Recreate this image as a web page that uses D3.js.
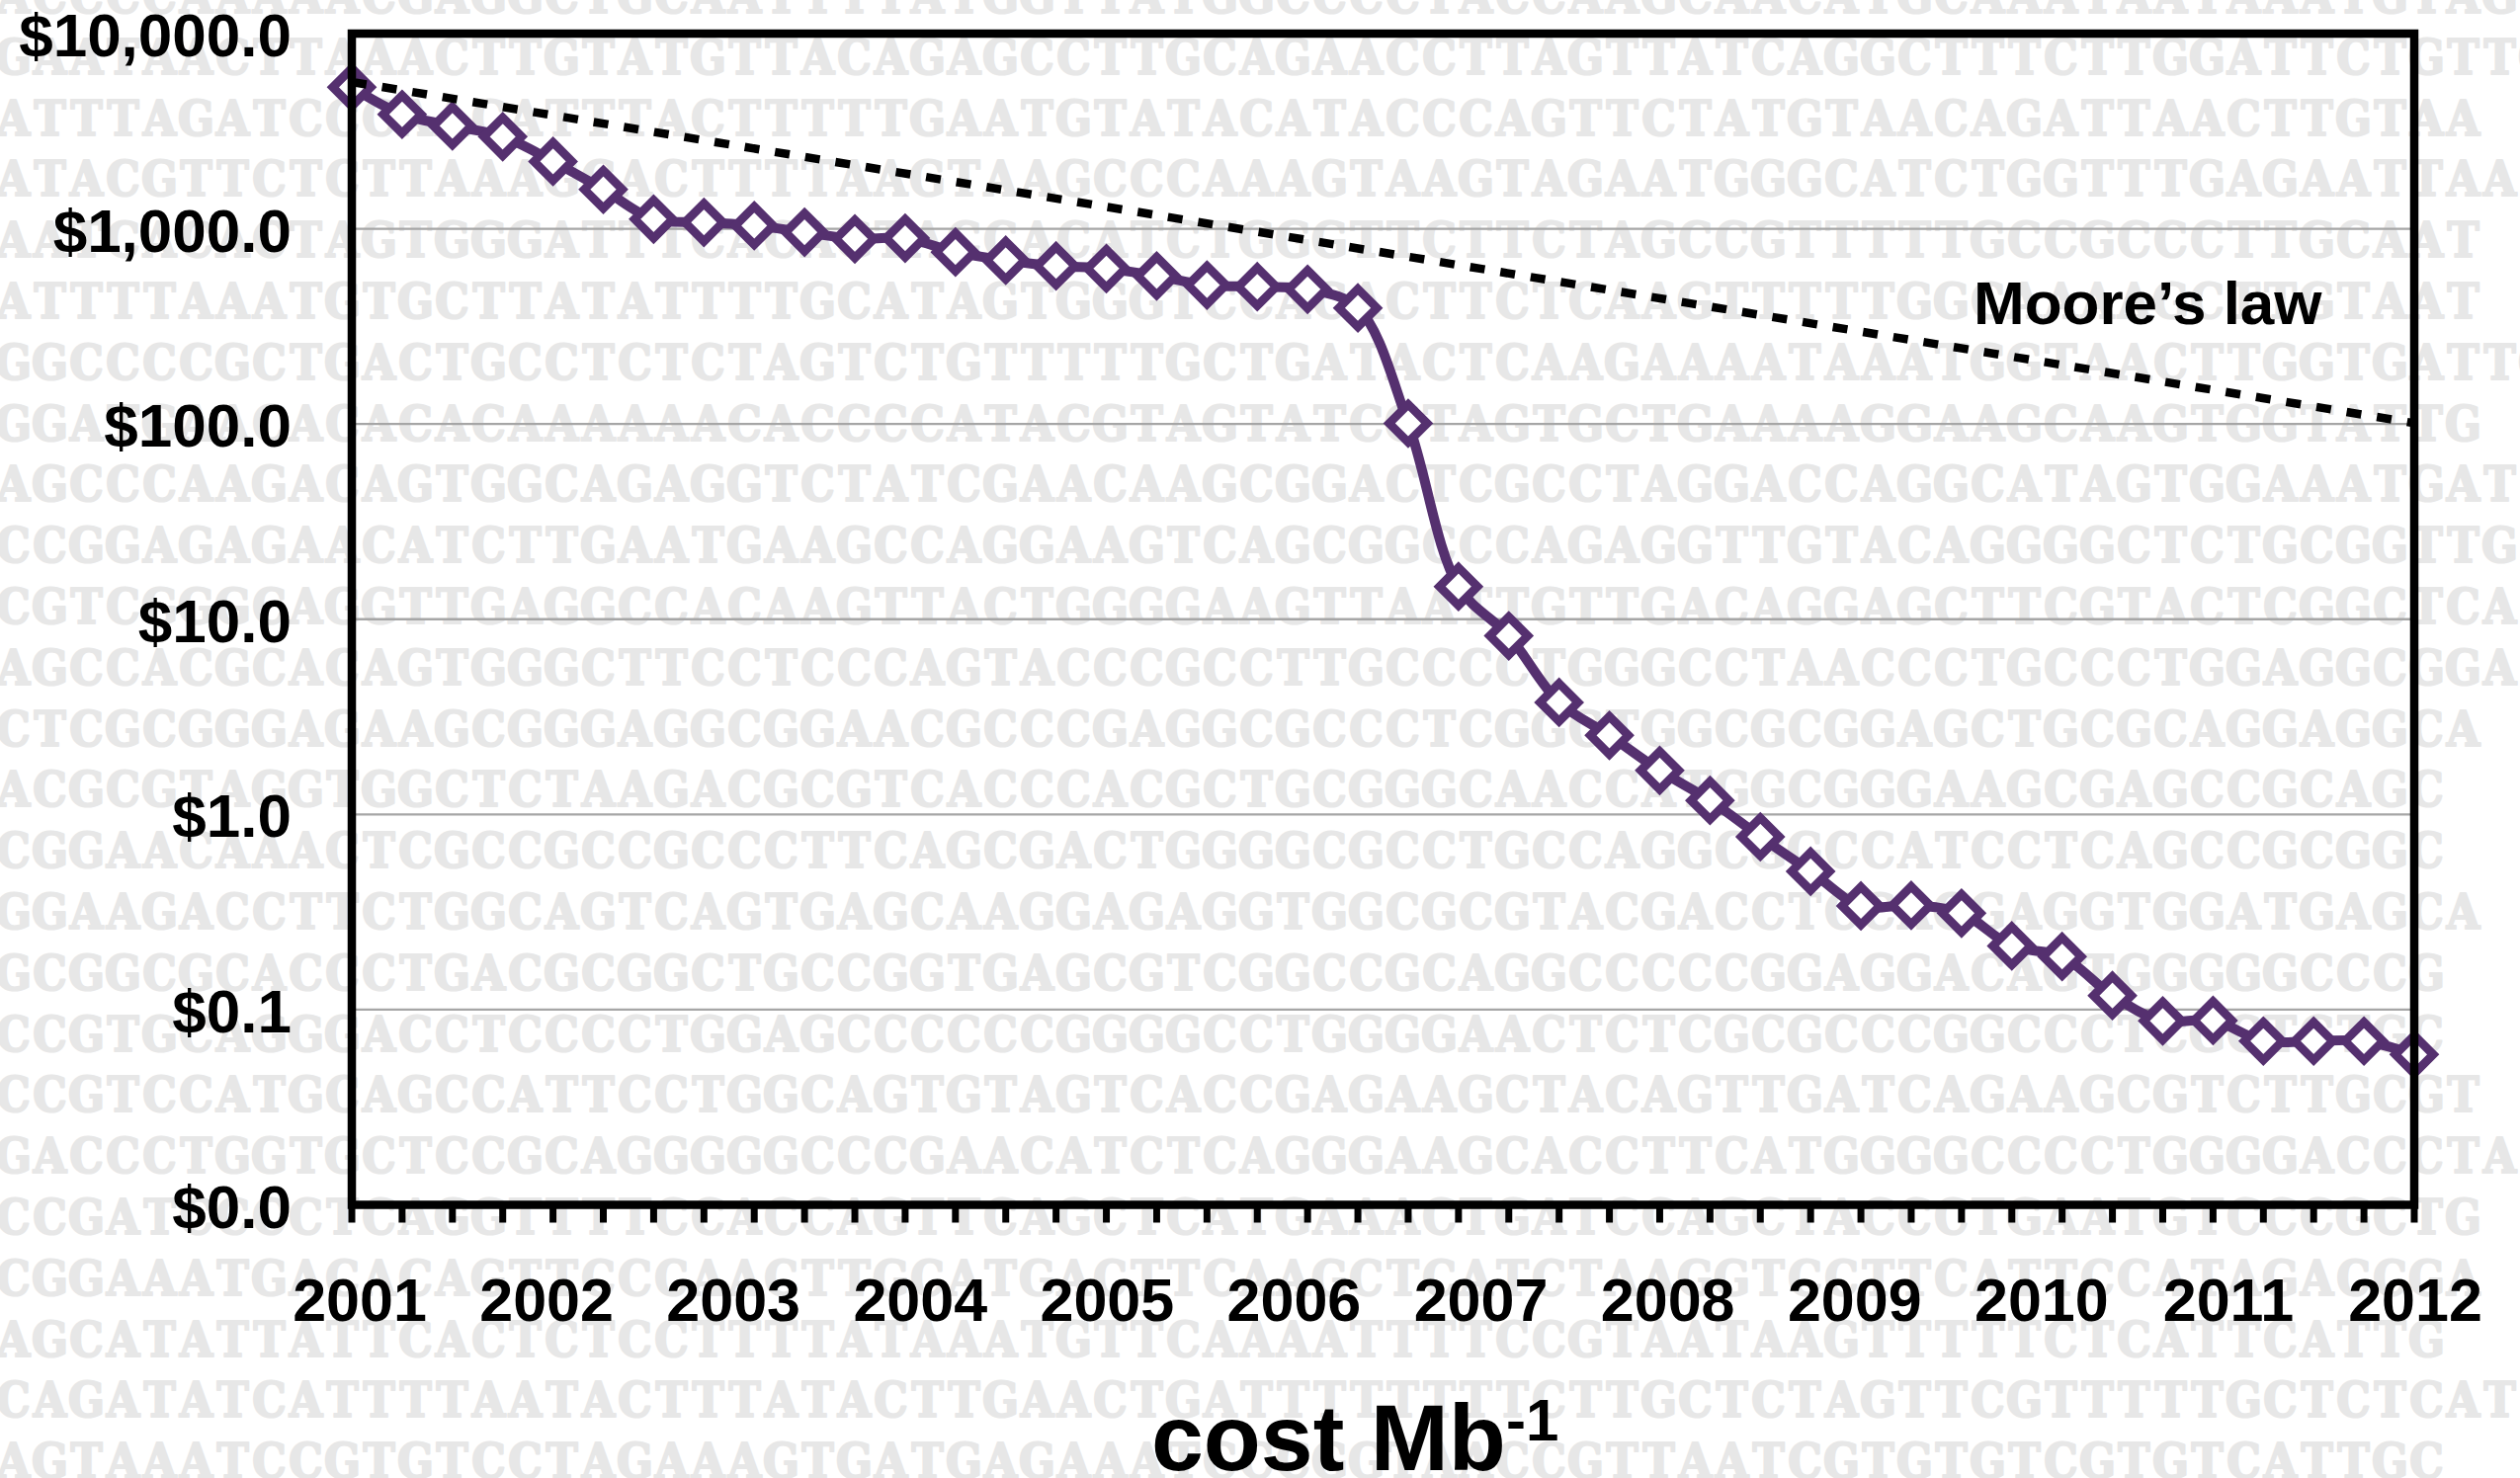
<!DOCTYPE html>
<html>
<head>
<meta charset="utf-8">
<script src="https://cdn.jsdelivr.net/npm/d3@7"></script>
<style>
  html, body { margin: 0; padding: 0; background: #ffffff; }
  svg { display: block; }
</style>
</head>
<body>
<svg id="chart" width="2550" height="1496"></svg>
<script>
// ---------------- data ----------------
const costPerMb = [5309, 3857, 3367, 2965, 2214, 1591, 1121, 1079, 1038, 960,
  888, 895, 760, 690, 645, 626, 573, 515, 505, 490,
  393, 100.8, 14.7, 8.22, 3.75, 2.54, 1.68, 1.18, 0.768, 0.511,
  0.340, 0.342, 0.312, 0.212, 0.187, 0.118, 0.0875, 0.088, 0.069, 0.069,
  0.069, 0.0589];
const mooreIndex = [0, 41];
const mooreLaw = [5650, 101];
const yearLabels = [2001, 2002, 2003, 2004, 2005, 2006, 2007, 2008, 2009, 2010, 2011, 2012];
const yTickValues = [0.01, 0.1, 1, 10, 100, 1000, 10000];
const gridValues = [0.1, 1, 10, 100, 1000];
const mooreLabel = "Moore\u2019s law";
const axisTitle = "cost Mb";
const axisTitleSup = "-1";
const bgRows = [
  "ACCCCAAAAACGAGGCTGCAATTTTATGGTTATGGCCCCTACCAAGCAACATGCAAATAATAAATGTAG",
  "GAATAACTTAAACTTGTATGTTACAGAGCCTTGCAGAACCTTAGTTATCAGGCTTTCTTGGATTCTGTTGA",
  "ATTTAGATCCCAACATTTACTTTTTGAATGTATACATACCCAGTTCTATGTAACAGATTAACTTGTAA",
  "ATACGTTCTCTTAAAGCACTTTTAAGTAAGCCCAAAGTAAGTAGAATGGGCATCTGGTTTGAGAATTAA",
  "AATCACACTAGTGGGATTTCACAGTACCACATCTGGGTTCTTCTAGCCGTTTTTGCCGCCCTTGCAAT",
  "ATTTTAAATGTGCTTATATTTTGCATAGTGGGTCCACACTTCTCAAGTTTTTGGCAAAAGCTTGTAAT",
  "GGCCCCGCTGACTGCCTCTCTAGTCTGTTTTTGCTGATACTCAAGAAAATAAATGGTAACTTGGTGATTG",
  "GGATGAACACACACAAAAAACACCCCATACGTAGTATCGTAGTGCTGAAAAGGAAGCAAGTGGTATTG",
  "AGCCCAAGACAGTGGCAGAGGTCTATCGAACAAGCGGACTCGCCTAGGACCAGGCATAGTGGAAATGAT",
  "CCGGAGAGAACATCTTGAATGAAGCCAGGAAGTCAGCGGCCCAGAGGTTGTACAGGGGCTCTGCGGTTG",
  "CGTCGGGCAGGTTGAGGCCACAAGTTACTGGGGAAGTTAATTGTTGACAGGAGCTTCGTACTCGGCTCA",
  "AGCCACGCACAGTGGGCTTCCTCCCAGTACCCGCCTTGCCCCTGGGCCTAACCCTGCCCTGGAGGCGGA",
  "CTCGCGGGAGAAGCGGGAGGCGGAACGCCCGAGGCGCCCTCGGCTGGCGCGGAGCTGCGCAGGAGGCA",
  "ACGCGTAGGTGGCTCTAAGACGCGTCACCCACGCTGCGGGCAACCATGGCGGGAAGCGAGCCGCAGC",
  "CGGAACAAACTCGCCGCCGCCCTTCAGCGACTGGGGCGCCTGCCAGGCGGCCATCCTCAGCCGCGGC",
  "GGAAGACCTTCTGGCAGTCAGTGAGCAAGGAGAGGTGGCGCGTACGACCTCCAGGAGGTGGATGAGCA",
  "GCGGCGCACCCTGACGCGGCTGCCGGTGAGCGTCGGCCGCAGGCCCCCGGAGGACAGTGGGGGCCCG",
  "CCGTGCAGGGACCTCCCCTGGAGCCCCCCGGGGCCTGGGGAACTCTCGCGCCCGGCCCTCGCTCTGC",
  "CCGTCCATGCAGCCATTCCTGGCAGTGTAGTCACCGAGAAGCTACAGTTGATCAGAAGCGTCTTGCGT",
  "GACCCTGGTGCTCCGCAGGGGGCCCGAACATCTCAGGGAAGCACCTTCATGGGGCCCCTGGGGACCCTA",
  "CCGATCCCCTCAGGTTTTCCACCAGTTCAGCTCATGAAACTGATCCAGCTACCCTGAATGTCCCGCTG",
  "CGGAAATGACACAGTTCCCAACTTGCATGACTTCAAGCTCATCTAAGGTCCTTCATTCCATAGACCGA",
  "AGCATATTATTCACTCTCCTTTTATAAATGTTCAAAATTTTCCGTAATAAGTTTTTCTCATTCATTG",
  "CAGATATCATTTTAATACTTTATACTTGAACTGATTTTTTTTCTTGCTCTAGTTCGTTTTTGCTCTCAT",
  "AGTAAATCCGTGTCCTAGAAAGTGATGAGAAATCCCGGTAACCGTTAATCGTGTGTCGTGTCATTGC"
];

// ---------------- layout ----------------
const W = 2550, H = 1496;
const plot = { left: 356, right: 2443, top: 34, bottom: 1219.5 };
const purple = "#55306f";
const labelFont = "'Liberation Sans', Arial, Helvetica, sans-serif";

const svg = d3.select("#chart");
svg.append("rect").attr("x", 0).attr("y", 0).attr("width", W).attr("height", H).attr("fill", "#ffffff");

// ---------------- background DNA text ----------------
const bgPitch = 37, bgOffset = -5, bgRowPitch = 61.8, bgFirstBaseline = 13, bgScaleX = 0.9;
const bg = svg.append("g").attr("class", "bg-text")
  .attr("transform", `scale(${bgScaleX},1)`);
bg.selectAll("text")
  .data(bgRows)
  .join("text")
  .attr("y", (d, i) => bgFirstBaseline + i * bgRowPitch)
  .attr("x", d => d.split("").map((c, j) => ((bgOffset + bgPitch / 2 + j * bgPitch) / bgScaleX).toFixed(1)).join(" "))
  .attr("text-anchor", "middle")
  .attr("font-family", "'DejaVu Serif', 'Liberation Serif', serif")
  .attr("font-weight", "bold")
  .attr("font-size", 48)
  .attr("fill", "#e7e7e7")
  .attr("stroke", "#e7e7e7")
  .attr("stroke-width", 2.2)
  .attr("stroke-linejoin", "round")
  .text(d => d);

// ---------------- scales ----------------
const y = d3.scaleLog().domain([0.01, 10000]).range([plot.bottom, plot.top]);
const xi = d3.scaleLinear().domain([0, costPerMb.length - 1]).range([plot.left, plot.right]);
const xYear = d3.scaleLinear().domain([2001, 2012]).range([364, 2444]);

// gridlines
svg.append("g").selectAll("line")
  .data(gridValues)
  .join("line")
  .attr("x1", plot.left).attr("x2", plot.right)
  .attr("y1", d => y(d)).attr("y2", d => y(d))
  .attr("stroke", "#a6a6a6").attr("stroke-width", 2.3);

// ---------------- series ----------------
const line = d3.line()
  .x((d, i) => xi(i))
  .y(d => y(d))
  .curve(d3.curveCatmullRom.alpha(0.5));

svg.append("path")
  .datum(costPerMb)
  .attr("d", line)
  .attr("fill", "none")
  .attr("stroke", purple)
  .attr("stroke-width", 10)
  .attr("stroke-linejoin", "round");

const dsize = 19.2;
svg.append("g").selectAll("path")
  .data(costPerMb)
  .join("path")
  .attr("transform", (d, i) => `translate(${xi(i)},${y(d)})`)
  .attr("d", `M0,${-dsize}L${dsize},0L0,${dsize}L${-dsize},0Z`)
  .attr("fill", "#ffffff")
  .attr("stroke", purple)
  .attr("stroke-width", 8.7);

// ---------------- frame & ticks ----------------
svg.append("rect")
  .attr("x", plot.left).attr("y", plot.top)
  .attr("width", plot.right - plot.left).attr("height", plot.bottom - plot.top)
  .attr("fill", "none").attr("stroke", "#000").attr("stroke-width", 8.5);

svg.append("g").selectAll("line")
  .data(d3.range(costPerMb.length))
  .join("line")
  .attr("x1", i => xi(i)).attr("x2", i => xi(i))
  .attr("y1", plot.bottom).attr("y2", plot.bottom + 18)
  .attr("stroke", "#000").attr("stroke-width", 7);

// ---------------- Moore's law ----------------
svg.append("path")
  .datum(mooreLaw)
  .attr("d", d3.line().x((d, i) => xi(mooreIndex[i])).y(d => y(d)))
  .attr("fill", "none")
  .attr("stroke", "#000")
  .attr("stroke-width", 8.5)
  .attr("stroke-dasharray", "15 16");

svg.append("text")
  .attr("x", 1997).attr("y", 328)
  .attr("font-family", labelFont).attr("font-weight", "bold").attr("font-size", 62)
  .attr("fill", "#000")
  .text(mooreLabel);

// ---------------- axis labels ----------------
const fmt = d3.format("$,.1f");
svg.append("g").selectAll("text")
  .data(yTickValues)
  .join("text")
  .attr("x", 295)
  .attr("y", d => y(d) + 23)
  .attr("text-anchor", "end")
  .attr("font-family", labelFont).attr("font-weight", "bold").attr("font-size", 62)
  .attr("fill", "#000")
  .text(d => fmt(d));

svg.append("g").selectAll("text")
  .data(yearLabels)
  .join("text")
  .attr("x", d => xYear(d))
  .attr("y", 1337)
  .attr("text-anchor", "middle")
  .attr("font-family", labelFont).attr("font-weight", "bold").attr("font-size", 61)
  .attr("fill", "#000")
  .text(d => d);

const title = svg.append("text")
  .attr("x", 1165).attr("y", 1488)
  .attr("font-family", labelFont).attr("font-weight", "bold").attr("font-size", 95)
  .attr("fill", "#000");
title.append("tspan").text(axisTitle);
title.append("tspan").attr("font-size", 60).attr("dy", -30).text(axisTitleSup);
</script>
</body>
</html>
